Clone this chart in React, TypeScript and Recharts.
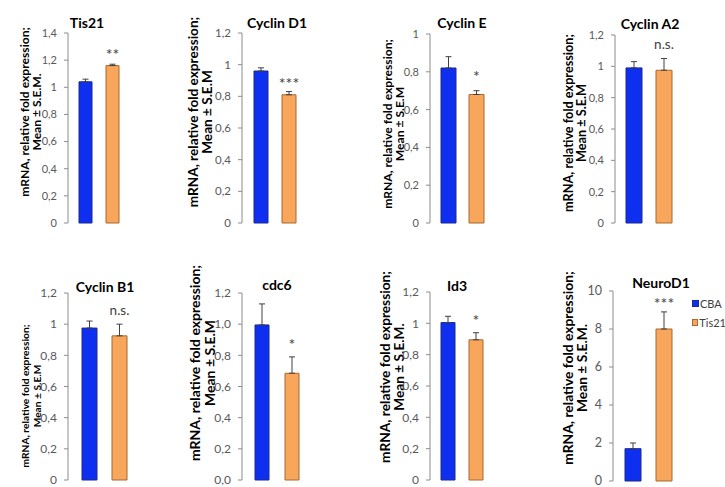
import { BarChart, Bar, XAxis, YAxis, ErrorBar, LabelList, Legend } from "recharts";

// one panel per gene, CBA vs Tis21 (mean ± S.E.M.)
const genes = ["Tis21", "Cyclin D1", "Cyclin E", "Cyclin A2", "Cyclin B1", "cdc6", "Id3", "NeuroD1"];
const cbaMean = [1.04, 0.96, 0.82, 0.99, 0.975, 0.995, 1.005, 1.7];
const cbaSem = [0.02, 0.02, 0.06, 0.04, 0.045, 0.135, 0.04, 0.3];
const tisMean = [1.16, 0.81, 0.68, 0.975, 0.925, 0.685, 0.895, 8.0];
const tisSem = [0.01, 0.02, 0.02, 0.075, 0.075, 0.105, 0.045, 0.9];
const significance = ["**", "***", "*", "n.s.", "n.s.", "*", "*", "***"];
const axisTitleEnd = ["S.E.M.", "S.E.M", "S.E.M", "S.E.M", "S.E.M", "S.E.M", "S.E.M.", "S.E.M."];

const yMax = [1.4, 1.2, 1, 1.2, 1.2, 1.2, 1.2, 10];
const yTicks = [
  [0, 0.2, 0.4, 0.6, 0.8, 1, 1.2, 1.4],
  [0, 0.2, 0.4, 0.6, 0.8, 1, 1.2],
  [0, 0.2, 0.4, 0.6, 0.8, 1],
  [0, 0.2, 0.4, 0.6, 0.8, 1, 1.2],
  [0, 0.2, 0.4, 0.6, 0.8, 1, 1.2],
  [0, 0.2, 0.4, 0.6, 0.8, 1, 1.2],
  [0, 0.2, 0.4, 0.6, 0.8, 1, 1.2],
  [0, 2, 4, 6, 8, 10],
];
const tickFormat = ["general", "general", "general", "general", "general", "0.0", "general", "general"];

const FONT = "Lato, 'DejaVu Sans', sans-serif";
const BLUE = "#0e2ff0";
const BLUE_EDGE = "#1a2a90";
const ORANGE = "#f8a65b";
const ORANGE_EDGE = "#a8692f";
const AXIS = "#8c8c8c";

// page layout of each panel (pixels)
const frames = [
  { axisX: 68, right: 130, top: 33, bottom: 223, barSize: 13, barGap: 14, titleX: 87, titleY: 28, labelCy: 112, l1: -44, l2: -32, labelFont: 12.1, tickFont: 11, sigGap: 7 },
  { axisX: 242, right: 307, top: 33, bottom: 223, barSize: 14, barGap: 14, titleX: 277, titleY: 28, labelCy: 112, l1: -49, l2: -35, labelFont: 13.6, tickFont: 11.5, sigGap: 6 },
  { axisX: 430, right: 495, top: 34, bottom: 223, barSize: 15, barGap: 13, titleX: 462, titleY: 28, labelCy: 124, l1: -43, l2: -31, labelFont: 12.1, tickFont: 11, sigGap: 12 },
  { axisX: 615, right: 683, top: 35, bottom: 223, barSize: 16, barGap: 14, titleX: 650, titleY: 29, labelCy: 123, l1: -47, l2: -34, labelFont: 12.7, tickFont: 11, sigGap: 10 },
  { axisX: 68, right: 140, top: 293, bottom: 480, barSize: 15, barGap: 15, titleX: 105, titleY: 292, labelCy: 396, l1: -43, l2: -31, labelFont: 10.2, tickFont: 12, sigGap: 9 },
  { axisX: 242, right: 312, top: 293, bottom: 480, barSize: 14, barGap: 16, titleX: 277, titleY: 290, labelCy: 363, l1: -48, l2: -33, labelFont: 14, tickFont: 12, sigGap: 10 },
  { axisX: 430, right: 493, top: 292, bottom: 480, barSize: 14, barGap: 14, titleX: 457, titleY: 291, labelCy: 367, l1: -46, l2: -32, labelFont: 13.7, tickFont: 12, sigGap: 10 },
  { axisX: 613, right: 684, top: 291, bottom: 481, barSize: 16, barGap: 15, titleX: 661, titleY: 288, labelCy: 368, l1: -46, l2: -32, labelFont: 13.8, tickFont: 12.5, sigGap: 6 },
];

function formatTick(v: number, style: string) {
  if (style === "0.0") return v.toFixed(1).replace(".", ",");
  return String(Number(v.toFixed(2))).replace(".", ",");
}

function renderLegend(props: any) {
  const edges: Record<string, string> = { CBA: BLUE_EDGE, Tis21: ORANGE_EDGE };
  return (
    <div style={{ fontFamily: FONT }}>
      {(props.payload || []).map((e: any) => (
        <div key={e.value} style={{ display: "flex", alignItems: "center", height: 19, whiteSpace: "nowrap" }}>
          <span style={{ width: 5, height: 5, background: e.color, border: `1px solid ${edges[e.value]}`, marginRight: 1 }} />
          <span style={{ fontSize: 11, color: "#404040" }}>{e.value}</span>
        </div>
      ))}
    </div>
  );
}

function Panel({ i }: { i: number }) {
  const f = frames[i];
  const mt = 80;
  const ml = 30;
  const yw = 32;
  const mb = 6;
  const chartLeft = f.axisX - ml - yw;
  const chartTop = f.top - mt;
  const mr = i === 7 ? 725 - f.right : 6;
  const width = f.right - chartLeft + mr;
  const height = mt + (f.bottom - f.top) + mb;
  const data = [
    {
      name: genes[i],
      cba: cbaMean[i],
      cbaErr: [0, cbaSem[i]],
      tis: tisMean[i],
      tisErr: [0, tisSem[i]],
    },
  ];

  const labelX1 = f.axisX + f.l1 - chartLeft;
  const labelX2 = f.axisX + f.l2 - chartLeft;
  const labelY = f.labelCy - chartTop;

  const decorations = () => (
    <g fontFamily={FONT} fontWeight="bold" fill="#000">
      <text x={f.titleX - chartLeft} y={f.titleY - chartTop} textAnchor="middle" fontSize={14}>
        {genes[i]}
      </text>
      <text
        x={labelX1}
        y={labelY}
        transform={`rotate(-90 ${labelX1} ${labelY})`}
        textAnchor="middle"
        dominantBaseline="central"
        fontSize={f.labelFont}
      >
        mRNA, relative fold expression;
      </text>
      <text
        x={labelX2}
        y={labelY}
        transform={`rotate(-90 ${labelX2} ${labelY})`}
        textAnchor="middle"
        dominantBaseline="central"
        fontSize={f.labelFont}
      >
        {`Mean ± ${axisTitleEnd[i]}`}
      </text>
    </g>
  );

  const sigLabel = (p: any) => {
    const x = Number(p.x);
    const y = Number(p.y);
    const w = Number(p.width);
    const h = Number(p.height);
    const perUnit = h / tisMean[i];
    const errTop = y - tisSem[i] * perUnit;
    const ns = significance[i] === "n.s.";
    return (
      <text
        x={x + w / 2}
        y={errTop - f.sigGap + (ns ? 0 : 3)}
        textAnchor="middle"
        fontFamily={FONT}
        fontSize={ns ? 13.5 : 16}
        fill="#404040"
      >
        {significance[i]}
      </text>
    );
  };

  return (
    <div style={{ position: "absolute", left: chartLeft, top: chartTop }}>
      <BarChart
        width={width}
        height={height}
        data={data}
        margin={{ top: mt, left: ml, right: mr, bottom: mb }}
        barSize={f.barSize}
        barGap={f.barGap}
      >
        <XAxis dataKey="name" height={0} tick={false} tickLine={false} axisLine={{ stroke: AXIS }} />
        <YAxis
          width={yw}
          domain={[0, yMax[i]]}
          ticks={yTicks[i]}
          interval={0}
          tickFormatter={(v: number) => formatTick(v, tickFormat[i])}
          tick={{ fill: "#595959", fontSize: f.tickFont, fontFamily: FONT }}
          tickSize={4}
          tickMargin={7}
          tickLine={{ stroke: AXIS }}
          axisLine={{ stroke: AXIS }}
          label={{ content: decorations }}
        />
        <Bar dataKey="cba" name="CBA" fill={BLUE} stroke={BLUE_EDGE} strokeWidth={1} isAnimationActive={false}>
          <ErrorBar dataKey="cbaErr" width={3} stroke="#404040" strokeWidth={1} direction="y" isAnimationActive={false} />
        </Bar>
        <Bar dataKey="tis" name="Tis21" fill={ORANGE} stroke={ORANGE_EDGE} strokeWidth={1} isAnimationActive={false}>
          <ErrorBar dataKey="tisErr" width={3} stroke="#404040" strokeWidth={1} direction="y" isAnimationActive={false} />
          <LabelList dataKey="tis" content={sigLabel} />
        </Bar>
        {i === 7 && (
          <Legend
            layout="vertical"
            align="center"
            verticalAlign="middle"
            wrapperStyle={{ left: 692 - chartLeft, top: 294 - chartTop, width: 34 }}
            content={renderLegend}
          />
        )}
      </BarChart>
    </div>
  );
}

export default function App() {
  return (
    <div style={{ position: "fixed", left: 0, top: 0, width: 725, height: 487, background: "#fff", overflow: "hidden" }}>
      {genes.map((g, i) => (
        <Panel key={g} i={i} />
      ))}
    </div>
  );
}
